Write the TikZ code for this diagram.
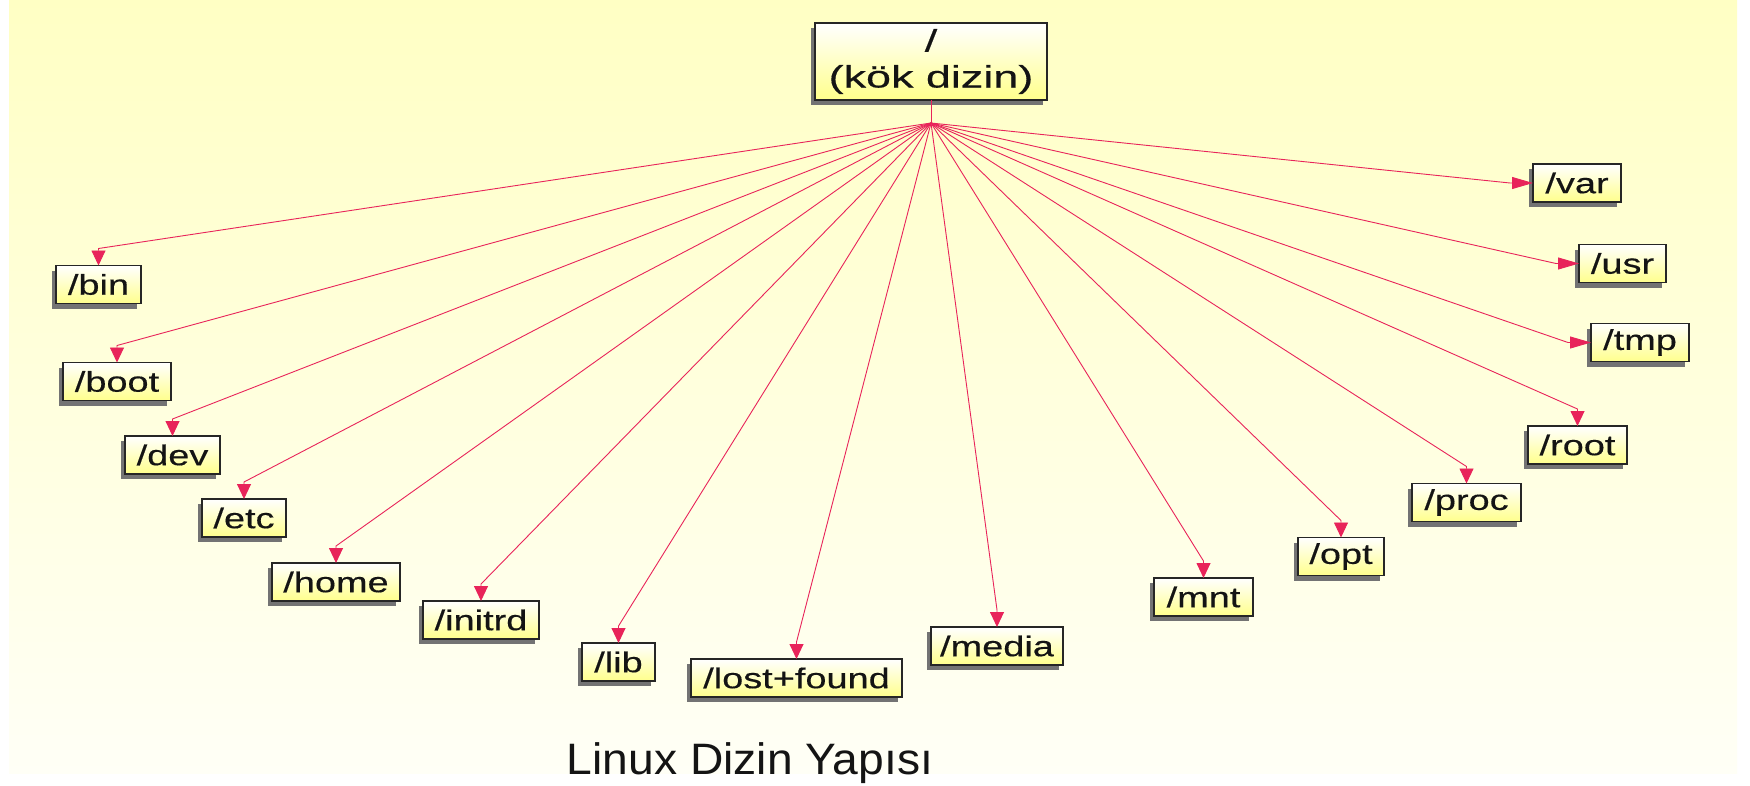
\documentclass[tikz,border=0pt]{standalone}
\usepackage{fontspec}
\setmainfont{Liberation Sans}
\newfontfamily\leaffont[FakeStretch=1.33,FakeBold=0.4]{Liberation Sans}
\newfontfamily\rootfont[FakeStretch=1.45,FakeBold=0.4]{Liberation Sans}
\newfontfamily\titlefont[FakeStretch=1.05]{Liberation Sans}
\usetikzlibrary{arrows.meta,shadows}
\definecolor{bgtop}{RGB}{255,255,196}
\definecolor{bgbot}{RGB}{255,255,246}
\definecolor{boxbot}{RGB}{255,255,140}
\definecolor{linkc}{RGB}{232,36,90}
\definecolor{txtc}{RGB}{20,20,20}
\tikzset{
  dirbox/.style={draw=black!85, line width=1.2pt, top color=white, bottom color=boxbot,
    inner sep=0pt, outer sep=0pt, text=txtc,
    drop shadow={shadow xshift=-4pt, shadow yshift=-5pt, fill=black!55, opacity=1}},
  leaf/.style={dirbox, minimum height=38pt, font=\leaffont\fontsize{28.5}{32}\selectfont},
  conn/.style={draw=linkc, line width=0.9pt},
  downtip/.style={conn, -{Triangle[length=15pt,width=14pt]}},
  righttip/.style={conn, -{Triangle[length=21pt,width=12pt]}}
}
\begin{document}
\begin{tikzpicture}[x=1pt,y=-1pt]
\useasboundingbox[fill=white] (0,0) rectangle (1750,785);
\shade[top color=bgtop, bottom color=bgbot] (9,0) rectangle (1737,773);
% root
\node[dirbox, minimum width=232pt, minimum height=77pt, align=center,
  font=\rootfont\fontsize{31}{36}\selectfont] (root) at (931,61.5) {/\\(kök dizin)};
\coordinate (hub) at (931,123);
% leaves
\node[leaf, minimum width=85pt]  (bin)    at (98.5,284.5) {/bin};
\node[leaf, minimum width=108pt] (boot)   at (117,381.5) {/boot};
\node[leaf, minimum width=95pt]  (dev)    at (172.5,455) {/dev};
\node[leaf, minimum width=84pt]  (etc)    at (244,518) {/etc};
\node[leaf, minimum width=128pt] (home)   at (336,582) {/home};
\node[leaf, minimum width=116pt] (initrd) at (481,620) {/initrd};
\node[leaf, minimum width=73pt]  (lib)    at (618.5,662) {/lib};
\node[leaf, minimum width=211pt] (lost)   at (796.5,678) {/lost+found};
\node[leaf, minimum width=132pt] (media)  at (997,646) {/media};
\node[leaf, minimum width=99pt]  (mnt)    at (1203.5,597) {/mnt};
\node[leaf, minimum width=86pt]  (opt)    at (1341,556.5) {/opt};
\node[leaf, minimum width=109pt] (proc)   at (1466.5,502.5) {/proc};
\node[leaf, minimum width=99pt]  (rootd)  at (1577.5,445) {/root};
\node[leaf, minimum width=88pt]  (var)    at (1577,183) {/var};
\node[leaf, minimum width=87pt]  (usr)    at (1622.5,263.5) {/usr};
\node[leaf, minimum width=98pt]  (tmp)    at (1640,342.5) {/tmp};
% connectors
\draw[conn] (root.south) -- (hub);
\foreach \n in {bin,boot,dev,etc,home,initrd,lib,lost,media,mnt,opt,proc,rootd}{
  \draw[downtip] (hub) -- ([yshift=17pt]\n.north) -- (\n.north);
}
\foreach \n in {var,usr,tmp}{
  \draw[righttip] (hub) -- ([xshift=-23pt]\n.west) -- (\n.west);
}
% title
\node[anchor=base, inner sep=0pt, text=txtc, font=\titlefont\fontsize{44}{50}\selectfont] (title) at (750,774) {Linux Dizin Yapısı};
\end{tikzpicture}
\end{document}
